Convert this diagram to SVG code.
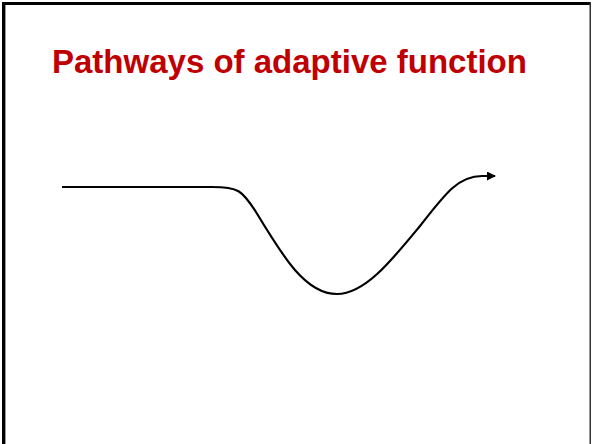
<svg xmlns="http://www.w3.org/2000/svg" width="592" height="444" viewBox="0 0 592 444">
<style>
.title{font-family:"Liberation Sans",Arial,sans-serif;font-weight:bold;font-size:33px;fill:#C00000}
.conn{fill:none;stroke:#000;stroke-width:2.2}
</style>
<defs>
<marker id="arr" markerWidth="9" markerHeight="9" refX="8" refY="4.5" orient="auto" markerUnits="userSpaceOnUse">
<path d="M0,0 L9,4.5 L0,9 Z" fill="#000"/>
</marker>
</defs>
<rect x="0" y="0" width="592" height="444" fill="#fff"/>
<rect x="2" y="2" width="3" height="442" fill="#000"/>
<rect x="2" y="2" width="589" height="3" fill="#000"/>
<rect x="5" y="5" width="1" height="439" fill="#999"/>
<rect x="589.5" y="2" width="1.5" height="442" fill="#333"/>
<g id="title"><text class="title" x="52" y="73">Pathways of adaptive function</text></g>
<g id="connectors">
<path class="conn" marker-end="url(#arr)" d="M62,187 L212,187 C238,187 242,190 256,212 C282,255 305,294 337,294 C365,294 392,260 420,226 C445,194 458,176 482,176 L495,176"/>
</g>
</svg>
